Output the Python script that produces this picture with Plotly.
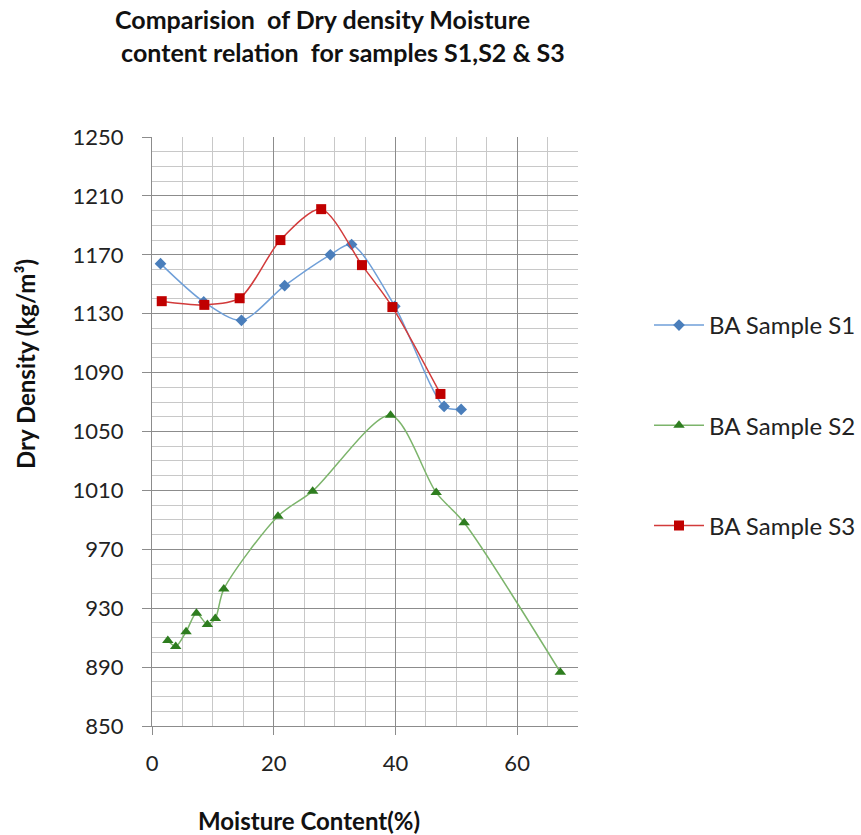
import plotly.graph_objects as go

# Data
s1_x = [1.4, 8.5, 14.7, 21.8, 29.3, 32.8, 39.9, 48.0, 50.8]
s1_y = [1164, 1138, 1125.5, 1149, 1170, 1177, 1135, 1067, 1065]

s2_x = [2.6, 3.9, 5.6, 7.3, 9.1, 10.4, 11.8, 20.7, 26.4, 39.2, 46.7, 51.3, 67.1]
s2_y = [908, 904, 914, 926.5, 919, 923, 943, 992.5, 1009.5, 1061, 1008.5, 988, 886.5]

s3_x = [1.6, 8.6, 14.4, 21.1, 27.8, 34.5, 39.5, 47.4]
s3_y = [1138.5, 1136, 1140.5, 1180, 1201, 1163, 1134.5, 1075.5]

names = ["BA Sample S1", "BA Sample S2", "BA Sample S3"]
x_ticks = [0, 20, 40, 60]
y_ticks = [850, 890, 930, 970, 1010, 1050, 1090, 1130, 1170, 1210, 1250]

FONT = "Lato"
PL, PR, PT, PB = 152, 283, 137, 109
PW = 861 - PL - PR
PH = 835 - PT - PB

fig = go.Figure()
fig.add_trace(go.Scatter(
    x=s1_x, y=s1_y, name=names[0], mode="lines+markers",
    line=dict(color="#6f9fd8", width=1.5, shape="spline", smoothing=0.8),
    marker=dict(symbol="diamond", size=9, color="#4a7ebb"),
    legendgroup="a"))
fig.add_trace(go.Scatter(
    x=s2_x, y=s2_y, name=names[1], mode="lines+markers",
    line=dict(color="#7cb46b", width=1.5, shape="spline", smoothing=0.8),
    marker=dict(symbol="triangle-up", size=10, color="#2e7d1f"),
    legendgroup="b"))
fig.add_trace(go.Scatter(
    x=s3_x, y=s3_y, name=names[2], mode="lines+markers",
    line=dict(color="#d23b3b", width=1.5, shape="spline", smoothing=0.8),
    marker=dict(symbol="square", size=10, color="#c00000"),
    legendgroup="c"))

fig.update_layout(
    width=861, height=835,
    margin=dict(l=PL, r=PR, t=PT, b=PB, autoexpand=False),
    paper_bgcolor="white", plot_bgcolor="white",
    font=dict(family=FONT, color="#222222"),
    showlegend=True,
    legend=dict(x=(649 - PL) / PW, y=(726 - 303) / PH, xanchor="left", yanchor="top",
                font=dict(family=FONT, size=24, color="#222222"),
                tracegroupgap=66, itemwidth=50, bgcolor="rgba(0,0,0,0)"),
    xaxis=dict(range=[0, 70], tickvals=x_ticks, ticktext=[str(v) for v in x_ticks],
               showgrid=True, gridcolor="#8c8c8c", gridwidth=1,
               minor=dict(dtick=5, showgrid=True, gridcolor="#c8c8c8", gridwidth=1),
               showline=True, linecolor="#8c8c8c", linewidth=1, mirror=False,
               ticks="outside", ticklen=8, tickcolor="#8c8c8c",
               ticklabelstandoff=10,
               tickfont=dict(family=FONT, size=22, color="#222222"),
               zeroline=False, fixedrange=True),
    yaxis=dict(range=[850, 1250], tickvals=y_ticks, ticktext=[str(v) for v in y_ticks],
               showgrid=True, gridcolor="#8c8c8c", gridwidth=1,
               minor=dict(dtick=10, showgrid=True, gridcolor="#c8c8c8", gridwidth=1),
               showline=True, linecolor="#8c8c8c", linewidth=1,
               ticks="outside", ticklen=9, tickcolor="#8c8c8c",
               ticklabelstandoff=14,
               tickfont=dict(family=FONT, size=22, color="#222222"),
               zeroline=False, fixedrange=True),
    annotations=[
        dict(text="<b>Comparision  of Dry density Moisture<br> content relation  for samples S1,S2 &amp; S3</b>",
             xref="paper", yref="paper", x=(113 - PL) / PW, y=1, yshift=PT - 2,
             xanchor="left", yanchor="top",
             showarrow=False, align="left",
             font=dict(family=FONT, size=25, color="#111111")),
        dict(text="<b>Moisture Content(%)</b>", xref="paper", yref="paper",
             x=(309 - PL) / PW, y=0, yshift=-(820 - 726), xanchor="center", yanchor="middle",
             showarrow=False, font=dict(family=FONT, size=24, color="#111111")),
        dict(text="<b>Dry Density (kg/m³)</b>", xref="paper", yref="paper",
             x=0, xshift=-(PL - 25), y=(726 - 364) / PH, xanchor="center", yanchor="middle",
             textangle=-90, showarrow=False, font=dict(family=FONT, size=24, color="#111111")),
    ],
)

fig.write_html("out.html")
